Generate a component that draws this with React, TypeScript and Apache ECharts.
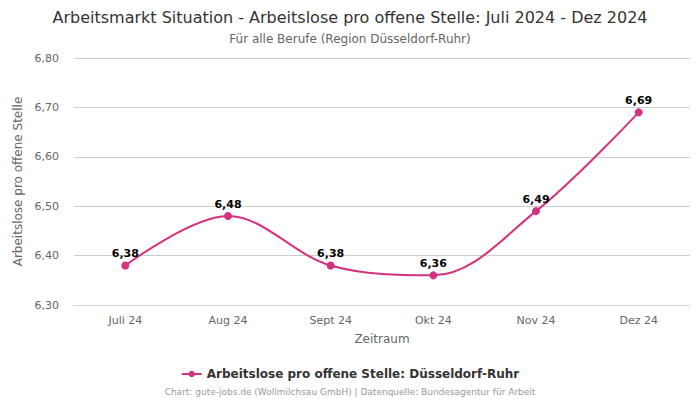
import React, { useEffect, useRef } from "react";
import * as echarts from "echarts";

const categories = ["Juli 24", "Aug 24", "Sept 24", "Okt 24", "Nov 24", "Dez 24"];
const values = [6.38, 6.48, 6.38, 6.36, 6.49, 6.69];
const seriesName = "Arbeitslose pro offene Stelle: Düsseldorf-Ruhr";
const fmt = (v: number) => v.toFixed(2).replace(".", ",");

export default function App() {
  const ref = useRef<HTMLDivElement>(null);
  useEffect(() => {
    const chart = echarts.init(ref.current!, null, { renderer: "svg" });
    const font = "DejaVu Sans";
    chart.setOption({
      animation: false,
      textStyle: { fontFamily: font },
      title: [
        { text: "Arbeitsmarkt Situation - Arbeitslose pro offene Stelle: Juli 2024 - Dez 2024", left: "center", top: 4, textStyle: { fontSize: 16, fontWeight: "normal", color: "#333", fontFamily: font } },
        { text: "Für alle Berufe (Region Düsseldorf-Ruhr)", left: "center", top: 28, textStyle: { fontSize: 12, fontWeight: "normal", color: "#666", fontFamily: font } },
        { text: "Chart: gute-jobs.de (Wollmilchsau GmbH) | Datenquelle: Bundesagentur für Arbeit", left: "center", top: 382, textStyle: { fontSize: 9, fontWeight: "normal", color: "#999", fontFamily: font } },
      ],
      legend: {
        bottom: 15, left: "center", itemWidth: 20, itemHeight: 8,
        textStyle: { fontSize: 12, fontWeight: "bold", color: "#333", fontFamily: font },
        data: [seriesName],
      },
      grid: { left: 74, right: 10, top: 58, bottom: 95, containLabel: false },
      xAxis: {
        type: "category", data: categories, boundaryGap: true,
        name: "Zeitraum", nameLocation: "middle", nameGap: 28,
        nameTextStyle: { fontSize: 12, color: "#666", fontFamily: font },
        axisLine: { lineStyle: { color: "#ccd6eb" } },
        axisTick: { show: false },
        axisLabel: { fontSize: 11, color: "#666", margin: 10, fontFamily: font },
      },
      yAxis: {
        type: "value", min: 6.3, max: 6.8, interval: 0.1,
        name: "Arbeitslose pro offene Stelle", nameLocation: "middle", nameGap: 44,
        nameTextStyle: { fontSize: 12, color: "#666", fontFamily: font },
        axisLabel: { fontSize: 11, color: "#666", margin: 15, formatter: (v: number) => fmt(v), fontFamily: font },
        splitLine: { lineStyle: { color: "#ccc" } },
        axisLine: { show: false }, axisTick: { show: false },
      },
      series: [{
        name: seriesName, type: "line", data: values,
        smooth: 0.35,
        symbol: "circle", symbolSize: 8,
        itemStyle: { color: "#d4317f" },
        lineStyle: { color: "#d4317f", width: 2 },
        label: { show: true, position: "top", distance: 2, formatter: (p: any) => fmt(p.value), fontSize: 11, fontWeight: "bold", color: "#000", fontFamily: font },
      }],
    });
    return () => chart.dispose();
  }, []);
  return <div ref={ref} style={{ width: 700, height: 400, position: "absolute", left: 0, top: 0 }} />;
}
